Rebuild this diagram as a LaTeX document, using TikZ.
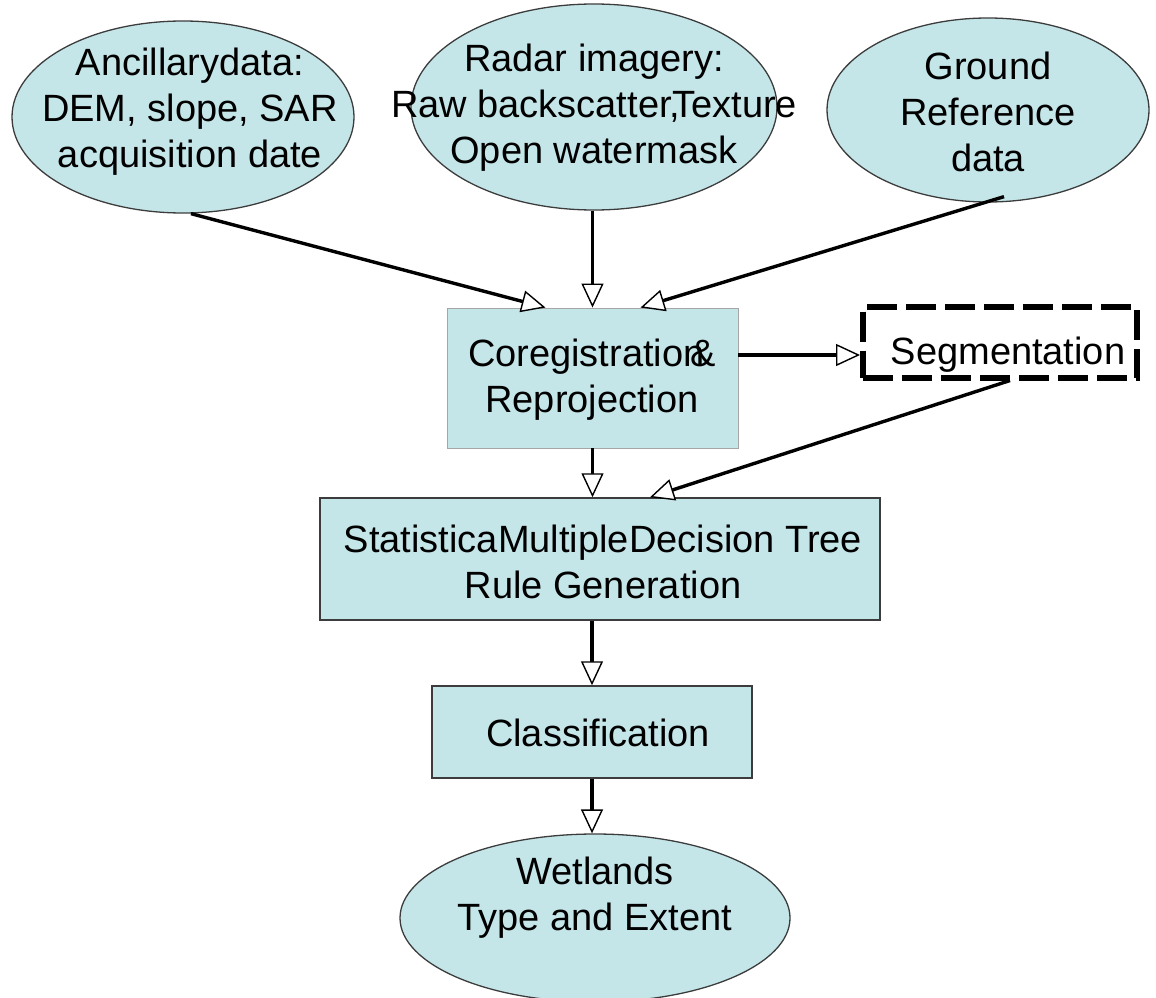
\documentclass[tikz,border=0pt]{standalone}
\usepackage{fontspec}
\setmainfont{Liberation Sans}
\usetikzlibrary{shapes.geometric,arrows.meta}
\definecolor{fillc}{RGB}{197,230,233}
\definecolor{edgec}{RGB}{60,60,60}
\tikzset{
  ell/.style={ellipse, draw=edgec, line width=1.3pt, fill=fillc, inner sep=0pt},
  boxc/.style={rectangle, draw=edgec, line width=1.5pt, fill=fillc, inner sep=0pt},
  txt/.style={align=center, font=\fontsize{38}{46}\selectfont, inner sep=0pt},
  arr/.style={line width=3.4pt, -{Triangle[length=24pt,width=22pt,fill=white,line width=1.4pt]}},
  segbox/.style={rectangle, draw=black, line width=6pt, dash pattern=on 30pt off 9pt, fill=white, inner sep=0pt}
}
\begin{document}
\begin{tikzpicture}[x=1pt,y=-1pt]
\useasboundingbox (0,0) rectangle (1156,998);
% top ellipses
\node[ell, minimum width=342pt, minimum height=192pt] (anc) at (183,117) {};
\node[txt] (anct) at (190,112) {Ancillarydata:\\DEM, slope, SAR\\acquisition date};
\node[ell, minimum width=366pt, minimum height=206pt] (rad) at (594,107) {};
\node[txt] (radt) at (594,108) {Radar imagery:\\Raw backscatter,\kern-8pt Texture\\Open watermask};
\node[ell, minimum width=322pt, minimum height=184pt] (gnd) at (988,110) {};
\node[txt] (gndt) at (988,112) {Ground\\Reference\\data};
% coregistration
\node[boxc, draw=gray!70, line width=0.9pt, minimum width=291pt, minimum height=140pt] (coreg) at (592.5,378) {};
\node[txt] (coregt) at (592,380) {Coregistration\kern-14pt\&\\Reprojection};
% segmentation
\node[segbox, minimum width=274pt, minimum height=71pt] (seg) at (1000,342) {};
\node[txt] (segt) at (1008,355) {Segmentation};
% statistical
\node[boxc, minimum width=560pt, minimum height=122pt] (stat) at (600,559) {};
\node[txt] (statt) at (603,562) {StatisticaMultipleDecision Tree\\Rule Generation};
% classification
\node[boxc, minimum width=320pt, minimum height=92pt] (cls) at (592,732) {};
\node[txt] (clst) at (598,733) {Classification};
% wetlands
\node[ell, minimum width=390pt, minimum height=168pt] (wet) at (595,918) {};
\node[txt] (wett) at (595,898) {Wetlands\\Type and Extent};
% connectors
\draw[arr] ([xshift=8pt]anc.south) -- ([xshift=-47pt]coreg.north);
\draw[arr] (rad.south -| coreg.north) -- (coreg.north);
\draw[arr] ([xshift=16pt,yshift=6pt]gnd.south) -- ([xshift=48pt]coreg.north);
\draw[arr] ([yshift=23pt]coreg.east) -- ([yshift=23pt]coreg.east -| seg.west);
\draw[arr] (coreg.south) -- (coreg.south |- stat.north);
\draw[arr] ([xshift=10pt]seg.south) -- ([xshift=50pt]stat.north);
\draw[arr] (stat.south -| cls.north) -- (cls.north);
\draw[arr] (cls.south) -- (cls.south |- wet.north);
\end{tikzpicture}
\end{document}
